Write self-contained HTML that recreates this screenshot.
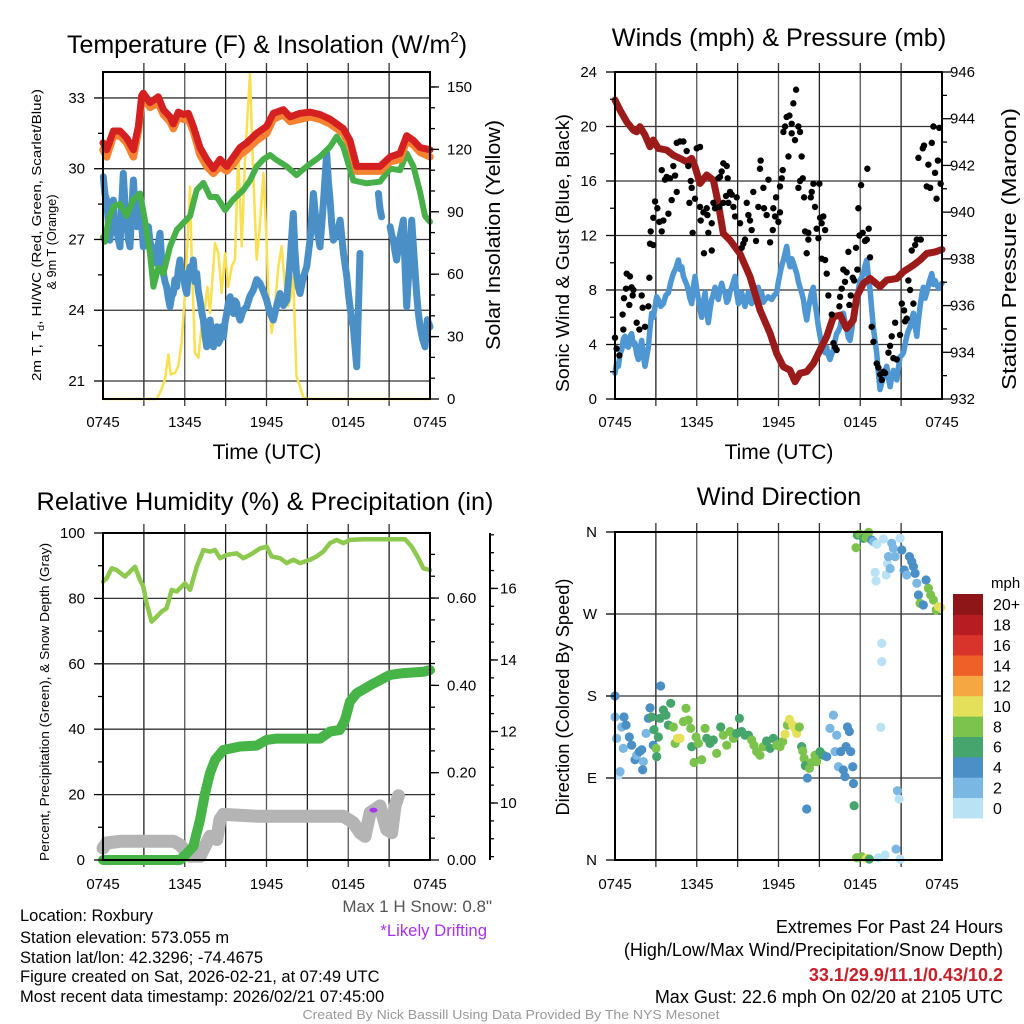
<!DOCTYPE html>
<html><head><meta charset="utf-8"><style>
html,body{margin:0;padding:0;background:#fff;}
svg{display:block;font-family:"Liberation Sans",Arial,sans-serif;}
</style></head><body>
<svg id="chart" xmlns="http://www.w3.org/2000/svg" width="1024" height="1024" viewBox="0 0 1024 1024">
<rect x="0" y="0" width="1024" height="1024" fill="#fff"/>
<text x="267" y="53" text-anchor="middle" font-size="25">Temperature (F) &amp; Insolation (W/m<tspan font-size="15" dy="-11">2</tspan><tspan dy="11">)</tspan></text>
<text x="779" y="46" text-anchor="middle" font-size="25.3">Winds (mph) &amp; Pressure (mb)</text>
<text x="265" y="510" text-anchor="middle" font-size="25.3">Relative Humidity (%) &amp; Precipitation (in)</text>
<text x="779" y="505" text-anchor="middle" font-size="25.3">Wind Direction</text>
<text transform="translate(41,235) rotate(-90)" text-anchor="middle" font-size="12.5" textLength="292" lengthAdjust="spacingAndGlyphs">2m T, T<tspan font-size="9" dy="3">d</tspan><tspan dy="-3">, HI/WC (Red, Green, Scarlet/Blue)</tspan></text>
<text transform="translate(56,242) rotate(-90)" text-anchor="middle" font-size="13" textLength="95" lengthAdjust="spacingAndGlyphs">&amp; 9m T (Orange)</text>
<text transform="translate(500,235) rotate(-90)" text-anchor="middle" font-size="20" textLength="230" lengthAdjust="spacingAndGlyphs">Solar Insolation (Yellow)</text>
<text x="267" y="459" text-anchor="middle" font-size="21">Time (UTC)</text>
<text x="779" y="459" text-anchor="middle" font-size="21">Time (UTC)</text>
<text transform="translate(569,253) rotate(-90)" text-anchor="middle" font-size="18" textLength="278" lengthAdjust="spacingAndGlyphs">Sonic Wind &amp; Gust (Blue, Black)</text>
<text transform="translate(1016,249) rotate(-90)" text-anchor="middle" font-size="20" textLength="282" lengthAdjust="spacingAndGlyphs">Station Pressure (Maroon)</text>
<text transform="translate(49,702) rotate(-90)" text-anchor="middle" font-size="13" textLength="318" lengthAdjust="spacingAndGlyphs">Percent, Precipitation (Green), &amp; Snow Depth (Gray)</text>
<text transform="translate(569,697) rotate(-90)" text-anchor="middle" font-size="18" textLength="237" lengthAdjust="spacingAndGlyphs">Direction (Colored By Speed)</text>
<text x="991" y="588" font-size="15">mph</text>
<g font-size="16.5">
<text x="20" y="921">Location: Roxbury</text>
<text x="20" y="943">Station elevation: 573.055 m</text>
<text x="20" y="963">Station lat/lon: 42.3296; -74.4675</text>
<text x="20" y="982">Figure created on Sat, 2026-02-21, at 07:49 UTC</text>
<text x="20" y="1002">Most recent data timestamp: 2026/02/21 07:45:00</text>
</g>
<text x="492" y="912" text-anchor="end" font-size="17" fill="#555">Max 1 H Snow: 0.8"</text>
<text x="487" y="936" text-anchor="end" font-size="16.7" fill="#a533f0">*Likely Drifting</text>
<text x="511" y="1019" text-anchor="middle" font-size="13" fill="#999" textLength="417" lengthAdjust="spacingAndGlyphs">Created By Nick Bassill Using Data Provided By The NYS Mesonet</text>
<g font-size="18" text-anchor="end">
<text x="1003" y="933">Extremes For Past 24 Hours</text>
<text x="1003" y="956">(High/Low/Max Wind/Precipitation/Snow Depth)</text>
<text x="1003" y="981" font-weight="bold" fill="#c8202a">33.1/29.9/11.1/0.43/10.2</text>
<text x="1003" y="1003">Max Gust: 22.6 mph On 02/20 at 2105 UTC</text>
</g>
</svg>
<script>
// ---------- DATA ----------
const xTickHours=[0,6,12,18,24];
const xTickLabels=['0745','1345','1945','0145','0745'];
const tempTicks=[21,24,27,30,33];
const solarTicks=[0,30,60,90,120,150];
const windTicks=[0,4,8,12,16,20,24];
const pressTicks=[932,934,936,938,940,942,944,946];
const rhTicks=[0,20,40,60,80,100];
const precipTicks=[0,0.2,0.4,0.6];
const precipTickLabels=['0.00','0.20','0.40','0.60'];
const snowTicks=[10,12,14,16];
const dirTicks=[0,90,180,270,360];
const dirTickLabels=['N','E','S','W','N'];
const speedBins=['0','2','4','6','8','10','12','14','16','18','20+'];
const speedColors=['#b9e3f5','#7ab7e2','#4a8fc6','#46a46d','#7bc34c','#e5e05a','#f5a742','#ef6029','#d9342b','#b71c22','#8e1518'];

const tempHours=[0,0.27,0.76,1.25,1.74,2.23,2.6,2.84,2.96,3.45,4.06,4.43,4.92,5.16,5.53,5.9,6.26,6.63,7.12,7.61,8.1,8.59,9.08,9.57,10.06,10.55,11.28,12.01,12.5,13.24,13.73,14.46,15.2,15.93,16.67,17.15,17.64,18.13,18.62,19.35,20.33,21.07,21.8,22.29,22.78,23.27,24];
const redT=[31.1,30.8,31.6,31.6,31.3,30.8,31.8,33.1,33.2,32.8,33.05,32.5,32.2,31.9,32.4,32.3,32.35,31.8,30.9,30.4,30.0,30.4,30.1,30.5,30.9,31.1,31.5,31.8,32.35,32.5,32.2,32.35,32.4,32.3,32.1,31.9,31.7,31.2,30.1,30.1,30.1,30.5,30.65,31.4,31.2,30.9,30.8];
const orangeT=[30.8,30.5,31.4,31.4,31.1,30.5,31.6,32.9,33.0,32.6,32.8,32.3,32.0,31.7,32.2,32.1,32.1,31.6,30.6,30.1,29.8,30.1,29.9,30.2,30.6,30.8,31.2,31.5,32.1,32.3,32.0,32.1,32.2,32.1,31.9,31.7,31.5,31.0,29.9,29.9,29.9,30.3,30.4,31.2,31.0,30.7,30.5];
const greenT=[[0,27.1],[0.15,26.9],[0.39,27.8],[0.76,28.4],[1.25,28.5],[1.74,28.0],[2.23,28.7],[2.72,28.95],[3.08,27.8],[3.45,26.4],[3.7,25.0],[4.06,25.8],[4.43,25.56],[4.92,26.7],[5.41,27.4],[5.9,27.7],[6.39,28.0],[6.88,29.1],[7.37,29.4],[7.86,28.8],[8.35,28.8],[8.96,28.25],[9.57,28.7],[10.3,29.1],[10.79,29.5],[11.28,30.1],[11.77,30.4],[12.26,30.58],[12.74,30.37],[13.48,30.1],[14.2,29.73],[14.95,30.1],[15.93,30.51],[16.67,30.93],[17.15,31.36],[17.64,30.93],[18.37,29.5],[19.35,29.38],[20.33,29.45],[21.07,30.0],[21.8,29.94],[22.29,30.65],[22.78,30.1],[23.27,29.0],[23.63,28.0],[24,27.75]];
const blueT=[[0.02,29.66],[0.15,28.9],[0.27,28.67],[0.4,27.6],[0.51,26.97],[0.63,27.9],[0.76,28.67],[0.88,27.3],[1.0,27.54],[1.12,27.0],[1.25,26.69],[1.37,28.5],[1.49,29.8],[1.62,28.4],[1.74,27.82],[1.86,27.0],[1.98,26.69],[2.1,28.1],[2.23,29.52],[2.35,28.3],[2.47,27.54],[2.6,28.9],[2.72,28.67],[2.84,27.6],[2.96,26.69],[3.15,27.3],[3.33,27.54],[3.45,26.9],[3.57,26.69],[3.75,26.4],[3.94,25.98],[4.06,26.8],[4.18,27.26],[4.3,26.2],[4.43,25.56],[4.55,25.2],[4.67,25.0],[4.8,24.5],[4.92,24.15],[5.04,24.6],[5.16,24.71],[5.28,25.3],[5.41,25.0],[5.53,25.7],[5.65,26.13],[5.78,25.4],[5.9,25.56],[6.02,25.0],[6.14,24.71],[6.26,25.5],[6.39,25.84],[6.51,25.4],[6.63,26.13],[6.75,25.2],[6.88,25.56],[7.0,24.8],[7.12,24.43],[7.25,23.9],[7.37,23.58],[7.49,22.9],[7.61,22.45],[7.74,23.2],[7.86,23.58],[7.98,22.9],[8.1,22.45],[8.22,23.0],[8.35,23.3],[8.47,22.6],[8.59,22.73],[8.72,23.3],[8.84,22.87],[8.96,23.5],[9.08,23.86],[9.2,24.3],[9.33,24.57],[9.45,24.0],[9.57,23.86],[9.69,24.4],[9.81,24.29],[9.93,23.8],[10.06,23.58],[10.3,24.0],[10.55,24.15],[10.79,24.6],[11.03,24.85],[11.28,25.3],[11.52,25.14],[11.77,24.8],[12.01,24.43],[12.25,23.9],[12.5,23.58],[12.75,24.2],[12.99,24.71],[13.24,24.2],[13.48,24.43],[13.72,26.0],[13.97,28.1],[14.08,26.6],[14.2,25.56],[14.33,25.0],[14.46,24.71],[14.7,25.4],[14.95,25.84],[15.2,27.0],[15.44,28.95],[15.68,27.5],[15.93,26.69],[16.17,28.5],[16.42,30.65],[16.55,29.4],[16.67,28.67],[16.79,27.6],[16.91,26.97],[17.15,27.2],[17.4,27.82],[17.65,26.4],[17.89,25.42],[18.01,24.7],[18.13,24.15],[18.25,23.6],[18.37,23.3],[18.5,22.4],[18.62,21.6],[18.74,23.9],[18.86,26.41],null,[20.21,28.95],[20.33,28.3],[20.45,27.96],null,[21.07,27.54],[21.19,27.2],[21.31,26.97],[21.43,26.5],[21.55,26.13],[21.8,27.1],[22.05,27.82],[22.17,25.8],[22.29,24.15],[22.48,26.0],[22.66,27.82],[22.84,26.2],[23.02,24.71],[23.14,23.9],[23.27,23.3],[23.45,22.8],[23.63,22.45],[23.8,23.6],[24,23.3]];
const solar=[[0,0],[3.94,0],[4.18,3],[4.55,9.4],[4.8,21.4],[4.97,11.8],[5.29,12.6],[5.53,15.8],[5.77,27],[6.02,51],[6.26,83],[6.39,102],[6.51,67],[6.75,22],[7.0,19.8],[7.24,35],[7.49,44.6],[7.66,54],[7.85,41.4],[8.22,75],[8.47,70],[8.71,51],[8.96,70],[9.2,54],[9.45,63.8],[9.69,67],[9.93,118],[10.18,73.4],[10.42,115],[10.67,143.8],[10.79,156.6],[10.91,131],[11.08,99],[11.28,67],[11.47,79.8],[11.77,108.6],[12.01,75],[12.14,51],[12.38,31.8],[12.62,44.6],[12.87,63.8],[13.11,73.4],[13.36,54],[13.6,44.6],[13.85,51],[13.97,59],[14.09,31.8],[14.2,11],[14.46,6],[14.7,1],[14.95,0],[24,0]];

const pressure=[[0,944.8],[0.37,944.37],[0.86,943.87],[1.35,943.51],[1.59,943.44],[1.83,943.66],[2.2,943.3],[2.57,942.8],[2.81,943.09],[3.18,942.73],[3.79,942.66],[4.28,942.44],[4.77,942.3],[5.26,942.16],[5.63,942.3],[5.87,941.94],[6.24,941.23],[6.73,941.59],[7.22,941.37],[7.58,940.37],[7.95,939.09],[8.44,938.8],[9.17,938.23],[9.91,937.24],[10.64,935.81],[11.38,934.81],[11.87,933.95],[12.36,933.38],[12.84,933.24],[13.21,932.74],[13.58,933.1],[14.07,933.17],[14.56,933.52],[15.05,934.1],[15.54,934.67],[16.03,935.52],[16.52,935.59],[17.0,935.02],[17.49,935.38],[17.74,936.38],[18.23,936.95],[18.72,937.16],[19.45,936.81],[19.94,937.09],[20.68,937.16],[21.17,937.45],[21.9,937.73],[22.39,937.95],[22.88,938.23],[23.49,938.3],[24,938.4]];
const sonicWind=[[0,1.9],[0.12,2.6],[0.25,2.4],[0.37,3.3],[0.49,3.6],[0.61,4.4],[0.73,4.6],[0.85,3.9],[0.98,3.8],[1.1,4.6],[1.22,4.8],[1.35,4.0],[1.47,4.1],[1.59,3.3],[1.71,2.9],[1.84,3.7],[1.96,4.3],[2.08,3.2],[2.2,2.4],[2.33,3.1],[2.45,3.8],[2.57,5.2],[2.69,6.3],[2.81,6.0],[2.94,6.8],[3.06,7.5],[3.18,7.3],[3.36,6.8],[3.55,7.0],[3.73,7.6],[3.92,7.8],[4.1,8.6],[4.28,9.2],[4.46,9.6],[4.65,10.2],[4.77,9.5],[4.9,9.7],[5.02,9.0],[5.14,8.7],[5.26,8.4],[5.38,8.0],[5.5,7.4],[5.63,7.0],[5.75,8.2],[5.87,9.0],[6.0,8.0],[6.12,7.3],[6.24,6.6],[6.36,6.0],[6.48,7.1],[6.61,7.8],[6.73,6.5],[6.85,5.6],[6.98,6.6],[7.1,7.3],[7.22,7.7],[7.34,8.2],[7.46,7.6],[7.58,7.3],[7.71,8.0],[7.83,8.5],[7.95,8.0],[8.08,7.8],[8.2,7.1],[8.32,7.3],[8.44,7.9],[8.57,8.2],[8.69,8.6],[8.81,9.0],[8.93,7.8],[9.06,7.0],[9.18,7.5],[9.3,7.8],[9.42,7.2],[9.54,6.8],[9.67,7.4],[9.79,7.8],[9.91,7.2],[10.03,7.0],[10.16,7.6],[10.28,7.3],[10.4,7.9],[10.52,8.2],[10.65,7.6],[10.77,7.8],[10.89,7.1],[11.01,7.3],[11.25,7.5],[11.5,7.3],[11.68,7.6],[11.87,7.8],[11.99,8.6],[12.11,9.2],[12.24,9.8],[12.36,10.2],[12.48,10.7],[12.6,11.2],[12.73,10.2],[12.85,9.7],[12.97,10.3],[13.09,10.0],[13.21,9.6],[13.34,9.2],[13.46,8.6],[13.58,8.2],[13.7,7.8],[13.83,7.3],[13.95,6.4],[14.07,5.8],[14.2,6.7],[14.32,7.3],[14.44,7.9],[14.56,8.2],[14.68,7.0],[14.8,6.3],[14.93,5.3],[15.05,4.6],[15.17,4.0],[15.29,3.8],[15.42,3.4],[15.54,3.8],[15.66,3.2],[15.78,2.9],[15.91,3.3],[16.03,3.6],[16.15,4.3],[16.27,4.8],[16.4,5.0],[16.52,5.3],[16.64,5.9],[16.76,6.3],[16.89,5.6],[17.01,5.1],[17.13,4.5],[17.25,4.3],[17.38,5.1],[17.5,6.0],[17.62,6.6],[17.74,7.0],[17.86,8.0],[17.98,8.7],[18.1,8.9],[18.23,9.2],[18.35,9.8],[18.47,10.2],[18.6,9.0],[18.72,8.0],[18.84,6.6],[18.96,5.3],[19.08,4.3],[19.21,3.4],[19.33,1.9],[19.45,0.7],[19.58,1.2],[19.7,1.6],[19.82,2.0],[19.94,2.4],[20.07,1.5],[20.19,0.9],[20.31,1.6],[20.43,2.1],[20.56,1.7],[20.68,1.4],[20.8,2.3],[20.92,3.1],[21.05,3.2],[21.17,3.4],[21.29,4.0],[21.41,4.6],[21.53,5.0],[21.66,5.3],[21.78,5.9],[21.9,6.3],[22.03,5.3],[22.15,4.6],[22.27,5.8],[22.39,6.8],[22.51,7.6],[22.63,8.2],[22.76,7.4],[22.88,7.8],[23.06,8.6],[23.25,9.2],[23.37,8.4],[23.49,8.7],[23.75,8.1],[24,8.5]];
const gusts=[[0,4.5],[0.12,3.7],[0.32,3.2],[0.56,6.2],[0.66,7.4],[0.81,8.1],[0.86,9.2],[1.1,9.0],[1.22,8.2],[1.35,8.0],[1.3,7.6],[1.05,6.9],[0.61,5.1],[1.59,5.6],[1.79,5.1],[1.96,7.6],[2.03,6.7],[2.2,5.3],[2.45,6.8],[2.52,8.9],[2.57,11.4],[2.81,11.3],[2.62,12.3],[2.81,13.3],[2.94,14.5],[3.11,14.0],[3.26,13.0],[3.43,12.3],[3.55,13.1],[3.43,16.8],[3.67,16.1],[3.79,16.3],[3.92,13.6],[4.04,16.2],[4.16,14.6],[4.28,17.1],[4.41,16.4],[4.53,15.2],[4.53,18.8],[4.77,18.9],[5.02,18.9],[5.26,18.2],[5.38,17.1],[5.46,14.4],[5.56,16.0],[5.63,15.5],[5.7,12.2],[5.87,14.7],[6.0,18.4],[6.24,18.5],[6.24,14.1],[6.29,13.1],[6.49,13.7],[6.73,14.0],[6.53,10.7],[6.78,13.5],[6.85,12.2],[7.1,12.9],[7.1,10.9],[7.22,14.4],[7.34,14.0],[7.58,16.2],[7.71,16.3],[7.83,16.7],[7.95,17.3],[8.2,17.1],[8.27,16.2],[7.66,14.1],[7.95,14.4],[8.15,14.9],[8.32,14.4],[8.44,15.2],[8.57,15.0],[8.69,14.1],[8.81,13.4],[8.93,14.8],[9.18,12.9],[9.3,11.1],[9.42,11.4],[9.54,11.7],[9.67,14.4],[9.79,13.5],[9.91,13.1],[10.03,12.4],[10.15,15.2],[10.35,11.6],[10.52,14.1],[10.64,16.9],[10.69,17.5],[10.89,15.5],[10.94,14.0],[11.13,13.5],[11.26,16.1],[11.38,11.5],[11.58,12.4],[11.62,14.0],[11.75,13.4],[11.82,14.8],[11.99,13.0],[12.11,13.7],[12.11,15.6],[12.24,16.2],[12.31,16.8],[12.36,19.6],[12.48,20.0],[12.6,20.7],[12.73,17.8],[12.8,20.8],[12.97,20.2],[12.97,19.5],[13.09,21.7],[13.21,19.0],[13.29,22.7],[13.46,20.0],[13.58,19.6],[13.7,17.8],[13.46,15.5],[13.58,16.0],[13.78,16.2],[13.88,14.8],[13.95,12.3],[14.07,10.7],[14.19,11.7],[14.19,12.2],[14.37,14.8],[14.44,15.2],[14.56,15.8],[14.68,14.1],[14.8,12.5],[14.93,11.8],[15.0,15.8],[15.05,13.3],[15.17,12.9],[15.29,13.4],[15.42,12.4],[15.17,10.3],[15.42,10.2],[15.54,9.2],[15.66,7.6],[15.91,6.2],[16.03,4.1],[16.15,3.8],[16.27,3.6],[16.47,6.8],[16.52,7.5],[16.64,8.1],[16.76,9.5],[16.88,8.6],[17.0,9.3],[17.13,10.8],[17.2,6.9],[17.3,7.6],[17.45,8.9],[17.55,8.7],[17.69,11.1],[17.79,9.5],[17.86,14.0],[17.94,12.0],[18.06,15.7],[18.18,12.2],[18.35,11.6],[18.48,11.7],[18.62,12.5],[18.52,16.9],[18.72,10.4],[18.84,5.3],[18.97,4.2],[19.21,2.6],[19.33,2.3],[19.46,1.8],[19.58,1.4],[19.7,2.0],[19.82,1.9],[20.07,3.4],[20.19,3.9],[20.31,4.6],[20.43,3.0],[20.56,5.6],[20.68,2.9],[20.92,4.7],[21.05,7.0],[21.22,6.5],[21.29,5.7],[21.41,5.9],[21.53,8.7],[21.66,8.0],[21.78,10.9],[21.9,7.0],[22.03,11.3],[22.15,11.7],[22.27,17.7],[22.44,11.7],[22.59,18.4],[22.68,18.6],[22.88,15.6],[23.0,17.2],[23.13,15.5],[23.25,18.8],[23.37,20.0],[23.49,16.6],[23.6,14.7],[23.7,17.5],[23.8,19.9],[23.9,15.8]];

const humidity=[[0,85.1],[0.27,86.2],[0.64,89.2],[1.0,88.7],[1.61,86.7],[1.98,88.2],[2.35,89.7],[2.71,85.7],[2.96,83.6],[3.2,78.5],[3.57,72.9],[3.94,74.4],[4.31,76],[4.67,77],[5.04,82.6],[5.41,82.1],[6.02,84.6],[6.39,82.6],[6.88,89.7],[7.37,94.8],[7.85,94.3],[8.22,94.8],[8.59,92.3],[9.08,93.3],[9.81,93.8],[10.3,92.3],[10.79,93.3],[11.53,95.3],[12.01,95.8],[12.38,92.8],[13.0,92.3],[13.48,90.8],[13.97,91.8],[14.46,90.8],[15.19,91.8],[15.68,92.8],[16.17,94.3],[16.66,96.9],[17.15,97.9],[17.64,96.9],[18.13,97.9],[19.11,98.1],[21.06,98.1],[22.17,98.1],[22.66,95.8],[23.15,92.3],[23.51,89.2],[24,88.7]];
const precip=[[0,0],[5.65,0],[6.14,0.015],[6.63,0.031],[7.12,0.092],[7.49,0.153],[7.85,0.199],[8.22,0.229],[8.83,0.252],[10.06,0.26],[11.28,0.262],[12.01,0.275],[12.74,0.278],[15.93,0.278],[16.66,0.294],[17.39,0.298],[17.76,0.321],[18.13,0.363],[18.62,0.382],[19.6,0.4],[20.33,0.412],[21.06,0.424],[22.05,0.428],[23.51,0.431],[24,0.435]];
const snowDepth=[[0,8.74],[0.27,8.88],[1.25,8.93],[3.7,8.93],[5.16,8.93],[5.65,8.83],[6.39,8.51],[7.12,8.51],[7.85,9.07],[8.35,8.98],[8.59,9.54],[8.83,9.68],[11.28,9.63],[17.64,9.63],[18.37,9.45],[18.86,9.17],[19.23,9.07],[19.6,9.73],[19.97,9.82],[20.33,9.92],[20.82,9.26],[21.19,9.17],[21.43,9.92],[21.68,10.2],null,[23.27,10.43]];
const driftHours=[19.85];
const driftSnow=[9.8];

const windDir=[[0,180,4],[0,157,2],[0.12,133.5,2],[0.25,93,0],[0.37,97,2],[0.49,146,2],[0.66,157,4],[0.81,148,4],[0.61,122.5,2],[1.05,135,4],[1.22,126,4],[1.47,110,4],[1.59,115,2],[1.79,119,4],[1.96,121,4],[2.08,108,2],[2.03,99,4],[2.28,139,2],[2.45,155.5,4],[2.57,167,4],[2.69,157,6],[2.86,143,6],[2.81,126,4],[3.01,122.5,8],[3.06,113.4,6],[3.18,135,6],[3.3,155.5,6],[3.35,191,4],[3.55,164.6,6],[3.74,159,6],[3.92,148,6],[4.09,172,6],[4.28,146,8],[4.41,128,8],[4.58,133.5,10],[4.77,133.5,10],[5.02,151.8,8],[5.21,166.5,8],[5.38,153.6,8],[5.56,144.5,8],[5.63,124.4,6],[5.8,107,8],[5.95,135,8],[6.12,128,8],[6.36,110,8],[6.61,144.5,8],[6.73,133.5,6],[6.97,128,6],[7.22,131.7,6],[7.46,117,8],[7.76,146,6],[7.95,137,8],[8.2,126,8],[8.44,141,8],[8.69,133.5,8],[8.93,139,6],[9.13,155.5,6],[9.3,141,6],[9.54,137,6],[9.79,137,6],[10.03,131.7,8],[10.2,126,8],[10.4,119,8],[10.64,115,8],[10.89,124.4,8],[11.13,130.6,6],[11.38,122.5,6],[11.62,133.5,6],[11.87,126,8],[12.11,124.4,8],[12.31,130,8],[12.48,138,10],[12.65,148,8],[12.8,154.3,10],[13.04,148,10],[13.21,144.5,10],[13.34,139,10],[13.53,146,8],[13.7,124.4,6],[13.78,119.6,8],[13.88,111.6,8],[13.97,103.5,6],[14.12,90,4],[14.07,56,4],[14.27,100.6,8],[14.44,107,8],[14.68,115,8],[14.8,108,8],[15.05,119,6],[15.29,115,6],[15.54,113.4,4],[15.78,144.5,2],[16.03,159,2],[16.15,119,2],[16.27,137,2],[16.4,102.4,2],[16.57,119,4],[16.76,98.8,4],[16.88,91.5,4],[16.96,124.4,4],[17.06,146,4],[17.2,141,4],[17.3,119,4],[17.45,102.4,4],[17.5,84,4],[17.55,59.6,6],[17.69,342.8,8],[17.79,356.7,6],[17.98,357.5,8],[18.23,353,6],[18.43,353.8,8],[18.62,359.6,8],[18.84,351.2,4],[18.97,349.4,2],[19.21,346.5,0],[19.09,315.7,0],[19.16,306.2,0],[19.58,237.8,0],[19.58,217.7,0],[19.5,145.6,0],[19.7,352.3,0],[19.9,312.8,0],[20.0,325.6,0],[20.07,333,2],[20.19,320,2],[20.31,347.6,2],[20.43,342,2],[20.56,333,2],[20.92,353,0],[21.05,340.3,4],[21.22,318.3,4],[21.41,312.8,2],[21.61,333,4],[21.78,327.5,4],[21.9,322,4],[22.03,314.6,4],[22.15,303.7,2],[22.27,290.9,4],[22.39,281.7,8],[22.63,279.9,4],[22.83,307.3,4],[23.0,298.2,8],[23.17,290.9,8],[23.37,285.4,8],[23.57,274.4,8],[23.74,278,10],[23.9,277,10],[17.74,2.5,8],[18.1,3.6,8],[18.47,1.8,10],[18.67,1,6],[19.33,2.5,0],[19.82,5.5,0],[20.63,12,2],[20.92,1,0],[20.73,76,2],[20.85,67,0]];

// ---------- HELPERS ----------
const svg=document.getElementById('chart');
const NS='http://www.w3.org/2000/svg';
function mk(tag,attrs,parent){const e=document.createElementNS(NS,tag);for(const k in attrs)e.setAttribute(k,attrs[k]);(parent||svg).appendChild(e);return e;}
const P1={l:103,r:430,t:72,b:399},P2={l:615,r:942,t:72,b:399},P3={l:103,r:430,t:533,b:860},P4={l:615,r:942,t:532,b:860};
function sx(p,h){return p.l+h/24*(p.r-p.l);}
function sy(p,v,lo,hi){return p.b-(v-lo)/(hi-lo)*(p.b-p.t);}
const T_LO=20.237,T_HI=34.10,S_LO=0,S_HI=157.2,W_LO=0,W_HI=24,PR_LO=932,PR_HI=946,RH_LO=0,RH_HI=100,PC_LO=0,PC_HI=0.749,SN_LO=8.406,SN_HI=17.55,D_LO=0,D_HI=360;
function pathFrom(p,pts,lo,hi){let d='',pen=false;for(const q of pts){if(q===null){pen=false;continue;}d+=(pen?'L':'M')+sx(p,q[0]).toFixed(1)+','+sy(p,q[1],lo,hi).toFixed(1);pen=true;}return d;}
function grid(p,ys,name){const g=mk('g',{stroke:'#333','stroke-width':1.3,fill:'none'});


for(let h=3;h<24;h+=3){const x=sx(p,h);mk('line',{x1:x,y1:p.t,x2:x,y2:p.b,stroke:(h%6===0?'#555':'#222')},g);mk('line',{x1:x,y1:p.t-9,x2:x,y2:p.t},g);mk('line',{x1:x,y1:p.b,x2:x,y2:p.b+7},g);}
for(const y of ys)mk('line',{x1:p.l,y1:y,x2:p.r,y2:y},g);}
function frame(p,name){const r=mk('rect',{x:p.l,y:p.t,width:p.r-p.l,height:p.b-p.t,fill:'none',stroke:'#000','stroke-width':2});

}
function label(x,y,txt,anchor,size,name){const t=mk('text',{x:x,y:y,'text-anchor':anchor,'font-size':size||15});t.textContent=txt;

return t;}
function ticks(x,yList,len,name){const g=mk('g',{stroke:'#000','stroke-width':1.3});


for(const y of yList)mk('line',{x1:x,y1:y,x2:x+len,y2:y},g);}
function xLabels(p,y,name){xTickHours.forEach((h,i)=>label(sx(p,h),y,xTickLabels[i],'middle',15,name));}
function series(p,pts,lo,hi,color,w,name){const e=mk('path',{d:pathFrom(p,pts,lo,hi),fill:'none',stroke:color,'stroke-width':w,'stroke-linejoin':'round','stroke-linecap':'round'});

return e;}
function range(a,b,s){const o=[];for(let v=a;v<=b+1e-9;v+=s)o.push(v);return o;}

// ---------- PANEL 1 ----------
grid(P1,tempTicks.map(v=>sy(P1,v,T_LO,T_HI)),'temp-grid');
series(P1,solar,S_LO,S_HI,'#f8e050',2.5,'insolation-line');
series(P1,blueT,T_LO,T_HI,'#4a8fc6',7,'windchill-blue-line');
series(P1,greenT,T_LO,T_HI,'#48b048',6,'dewpoint-green-line');
series(P1,tempHours.map((h,i)=>[h,orangeT[i]]),T_LO,T_HI,'#f58230',7.5,'temp-9m-orange-line');
series(P1,tempHours.map((h,i)=>[h,redT[i]]),T_LO,T_HI,'#d42020',7,'temp-2m-red-line');
frame(P1,'temp-plot-frame');
ticks(P1.l,tempTicks.map(v=>sy(P1,v,T_LO,T_HI)),-9,'temp-major-ticks');
ticks(P1.l,range(22.5,34,3).map(v=>sy(P1,v,T_LO,T_HI)),-5,'temp-minor-ticks');
tempTicks.forEach(v=>label(85,sy(P1,v,T_LO,T_HI)+5,String(v),'end',15,'temp-tick-label'));
ticks(P1.r,solarTicks.map(v=>sy(P1,v,S_LO,S_HI)),9,'solar-major-ticks');
ticks(P1.r,range(10,150,10).map(v=>sy(P1,v,S_LO,S_HI)),5,'solar-minor-ticks');
solarTicks.forEach(v=>label(447,sy(P1,v,S_LO,S_HI)+5,String(v),'start',15,'solar-tick-label'));
xLabels(P1,427,'temp-x-tick-label');

// ---------- PANEL 2 ----------
grid(P2,windTicks.slice(1,-1).map(v=>sy(P2,v,W_LO,W_HI)),'wind-grid');
series(P2,sonicWind,W_LO,W_HI,'#4f97d3',5.5,'sonic-wind-line');
series(P2,pressure,PR_LO,PR_HI,'#9b1a1a',7,'pressure-line');
const gg=mk('g',{fill:'#000'});


for(const q of gusts){const c=mk('circle',{cx:sx(P2,q[0]),cy:sy(P2,q[1],W_LO,W_HI),r:3.2},gg);

}
frame(P2,'wind-plot-frame');
ticks(P2.l,windTicks.map(v=>sy(P2,v,W_LO,W_HI)),-9,'wind-major-ticks');
ticks(P2.l,range(2,22,4).map(v=>sy(P2,v,W_LO,W_HI)),-5,'wind-minor-ticks');
windTicks.forEach(v=>label(597,sy(P2,v,W_LO,W_HI)+5,String(v),'end',15,'wind-tick-label'));
ticks(P2.r,pressTicks.map(v=>sy(P2,v,PR_LO,PR_HI)),9,'pressure-major-ticks');
ticks(P2.r,range(933,945,2).map(v=>sy(P2,v,PR_LO,PR_HI)),5,'pressure-minor-ticks');
pressTicks.forEach(v=>label(950,sy(P2,v,PR_LO,PR_HI)+5,String(v),'start',15,'pressure-tick-label'));
xLabels(P2,427,'wind-x-tick-label');

// ---------- PANEL 3 ----------
grid(P3,rhTicks.slice(1,-1).map(v=>sy(P3,v,RH_LO,RH_HI)),'humidity-grid');
series(P3,snowDepth,SN_LO,SN_HI,'#b4b4b4',13,'snow-depth-line');
series(P3,precip,PC_LO,PC_HI,'#46b446',10,'precipitation-line');
series(P3,humidity,RH_LO,RH_HI,'#8dc84f',4.5,'humidity-line');
driftHours.forEach((h,i)=>{const c=mk('ellipse',{cx:sx(P3,h),cy:sy(P3,driftSnow[i],SN_LO,SN_HI),rx:4,ry:2.5,fill:'#a533f0'});

});
frame(P3,'humidity-plot-frame');
ticks(P3.l,rhTicks.map(v=>sy(P3,v,RH_LO,RH_HI)),-9,'humidity-major-ticks');
ticks(P3.l,range(10,90,20).map(v=>sy(P3,v,RH_LO,RH_HI)),-5,'humidity-minor-ticks');
rhTicks.forEach(v=>label(85,sy(P3,v,RH_LO,RH_HI)+5,String(v),'end',15,'humidity-tick-label'));
ticks(P3.r,precipTicks.map(v=>sy(P3,v,PC_LO,PC_HI)),9,'precip-major-ticks');
ticks(P3.r,range(0.05,0.7,0.05).map(v=>sy(P3,v,PC_LO,PC_HI)),5,'precip-minor-ticks');
precipTicks.forEach((v,i)=>label(447,sy(P3,v,PC_LO,PC_HI)+5,precipTickLabels[i],'start',15,'precip-tick-label'));
const sAx=mk('line',{x1:490,y1:P3.t,x2:490,y2:P3.b,stroke:'#000','stroke-width':2});


ticks(490,snowTicks.map(v=>sy(P3,v,SN_LO,SN_HI)),8,'snow-major-ticks');
ticks(490,range(8.5,17.5,0.5).map(v=>sy(P3,v,SN_LO,SN_HI)),4,'snow-minor-ticks');
snowTicks.forEach(v=>label(500,sy(P3,v,SN_LO,SN_HI)+5,String(v),'start',15,'snow-tick-label'));
xLabels(P3,889,'humidity-x-tick-label');

// ---------- PANEL 4 ----------
grid(P4,dirTicks.slice(1,-1).map(v=>sy(P4,v,D_LO,D_HI)),'direction-grid');
const dg=mk('g',{});


for(const q of windDir){const bin=Math.min(10,Math.floor(q[2]/2));const c=mk('circle',{cx:sx(P4,q[0]),cy:sy(P4,q[1],D_LO,D_HI),r:4.6,fill:speedColors[bin]},dg);

}
frame(P4,'direction-plot-frame');
ticks(P4.l,dirTicks.map(v=>sy(P4,v,D_LO,D_HI)),-9,'direction-ticks');
dirTicks.forEach((v,i)=>label(597,sy(P4,v,D_LO,D_HI)+5,dirTickLabels[i],'end',15,'direction-tick-label'));
xLabels(P4,889,'direction-x-tick-label');
// colorbar
const cbTop=594,cbH=224/11;
speedColors.forEach((c,i)=>{const k=10-i;const r=mk('rect',{x:953,y:cbTop+k*cbH,width:30,height:cbH+0.4,fill:c});


label(993,cbTop+k*cbH+cbH/2+6,speedBins[i],'start',16,'colorbar-label');});
</script>
</body></html>
